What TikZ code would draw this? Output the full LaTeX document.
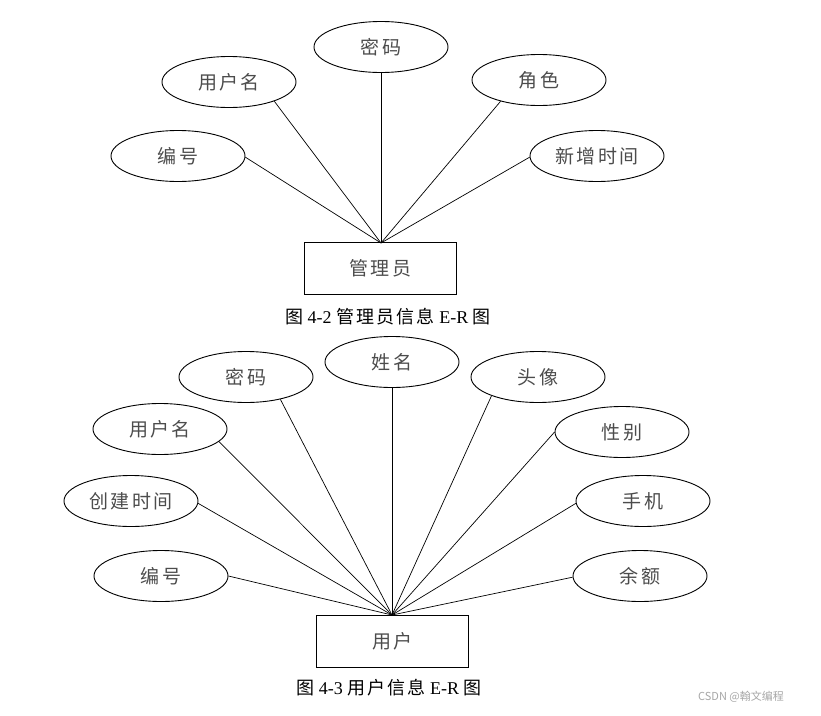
\documentclass[tikz,border=0pt]{standalone}
\usepackage{fontspec}
\setmainfont{Liberation Serif}
\newfontfamily\cjk{Noto Sans CJK SC}
\newfontfamily\cjkwide[LetterSpace=12]{Noto Sans CJK SC}
\newfontfamily\cjkcap[LetterSpace=12]{Noto Sans CJK SC}
\usetikzlibrary{shapes.geometric}
\tikzset{
  attr/.style={ellipse, draw, line width=0.9pt, minimum width=134pt, minimum height=51pt, inner sep=0pt, font=\cjkwide\fontsize{19}{21}\selectfont, text=black!70},
  ent/.style={rectangle, draw, line width=0.9pt, minimum width=152pt, minimum height=52pt, inner sep=0pt, font=\cjkwide\fontsize{19}{21}\selectfont, text=black!70},
  link/.style={line width=0.7pt},
  captext/.style={font=\fontsize{18}{20}\selectfont, text=black}
}
\begin{document}
\begin{tikzpicture}[x=1pt,y=-1pt]
\useasboundingbox (0,0) rectangle (821,715);
% top diagram
\node[ent] (adm) at (380.5,268.5) {管理员};
\coordinate (ta) at (381,243);
\node[attr] (a1) at (381,47) {密码};
\node[attr] (a2) at (229,82) {用户名};
\node[attr] (a3) at (539,80) {角色};
\node[attr] (a4) at (178,156) {编号};
\node[attr] (a5) at (597,156) {新增时间};
\foreach \n/\a in {a1/-90,a2/-23,a3/-151,a4/-1,a5/181} \draw[link] (\n.\a) -- (ta);
\node[captext] (c1) at (388,317) {{\cjkcap 图} 4-2 {\cjkcap 管理员信息} E-R {\cjkcap 图}};
% bottom diagram
\node[ent] (usr) at (392.5,641) {用户};
\coordinate (tu) at (392,615);
\node[attr] (b1) at (392,362) {姓名};
\node[attr] (b2) at (246,377) {密码};
\node[attr] (b3) at (538,377) {头像};
\node[attr] (b4) at (160,429) {用户名};
\node[attr] (b5) at (622,432) {性别};
\node[attr] (b6) at (131,501) {创建时间};
\node[attr] (b7) at (643,501) {手机};
\node[attr] (b8) at (161,576) {编号};
\node[attr] (b9) at (640,576) {余额};
\foreach \n/\a in {b1/-90,b2/-33,b3/-158,b4/-12,b5/180,b6/-2,b7/182,b8/0,b9/181} \draw[link] (\n.\a) -- (tu);
\node[captext] (c2) at (389,688) {{\cjkcap 图} 4-3 {\cjkcap 用户信息} E-R {\cjkcap 图}};
\node[font=\cjk\fontsize{11}{13}\selectfont, text=black!35] (wm) at (741,697) {CSDN @翰文编程};
\end{tikzpicture}
\end{document}
